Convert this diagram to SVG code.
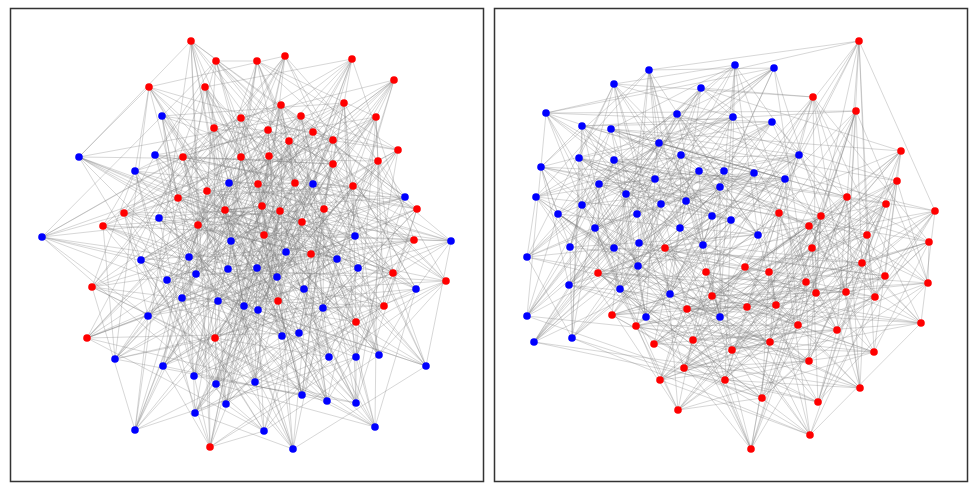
<svg xmlns="http://www.w3.org/2000/svg" width="978" height="490" viewBox="0 0 978 490">
<style>
.frame{fill:none;stroke:#333;stroke-width:1.5}
.e{fill:none;stroke:#808080;stroke-width:0.75;stroke-opacity:0.42;stroke-linejoin:round}
.b{fill:#0000ff}
.r{fill:#ff0000}
</style>
<rect width="978" height="490" fill="#fff"/>
<rect class="frame" x="10.5" y="8.5" width="473" height="473"/>
<rect class="frame" x="494.5" y="8.5" width="473" height="473"/>
<g id="connectors-left">
<polygon class="e" points="162,116 42,237 196,274 115,359 286,252 258,310 426,366 293,449 183,157 198,225 301,116 398,150 280,211 393,273 215,338 313,184 141,260 244,306 195,413 304,289 356,357 375,427 241,118 124,213 281,105 333,140 353,186 414,240 92,287 135,171 355,236 182,298 216,384 277,277 299,333 327,401 149,87 178,198 352,59 313,132 258,184 417,209 384,306 79,157 231,241 228,269 163,366 337,259 323,308 255,382 191,41 241,157 257,61 376,117 378,161 324,209 446,281 210,447 159,218 189,257 148,316 135,430 416,289 379,355 264,431 214,128 103,226 344,103 269,156 262,206 311,254 87,338 229,183 451,241 218,301 226,404 358,268 329,357 356,403 205,87 225,210 394,80 289,141 295,183 264,235 356,322 155,155 405,197 167,280 194,376 257,268 282,336 302,395 216,61 207,191 285,56 268,130 333,164 302,222 278,301"/>
<polygon class="e" points="162,116 293,449 215,338 375,427 92,287 327,401 384,306 255,382 446,281 379,355 311,254 329,357 264,235 282,336 302,222 258,310 280,211 304,289 353,186 277,277 258,184 337,259 378,161 135,430 269,156 226,404 289,141 194,376 268,130 115,359 301,116 244,306 281,105 182,298 352,59 228,269 257,61 189,257 103,226 451,241 225,210 405,197 207,191 42,237 183,157 313,184 241,118 135,171 149,87 79,157 191,41 210,447 264,431 87,338 356,403 356,322 302,395 278,301 426,366 393,273 356,357 414,240 299,333 417,209 323,308 324,209 416,289 262,206 358,268 295,183 257,268 333,164 286,252 398,150 195,413 333,140 216,384 313,132 163,366 376,117 148,316 344,103 218,301 394,80 167,280 285,56 196,274 198,225 141,260 124,213 355,236 178,198 231,241 241,157 159,218 214,128 229,183 205,87 155,155 216,61"/>
<polygon class="e" points="162,116 189,257 195,413 329,357 149,87 285,56 378,161 393,273 229,183 182,298 257,268 255,382 183,157 344,103 353,186 356,322 231,241 115,359 416,289 375,427 225,210 313,132 302,222 210,447 141,260 226,404 299,333 216,61 257,61 398,150 311,254 135,171 167,280 337,259 426,366 214,128 281,105 295,183 384,306 42,237 148,316 304,289 356,403 178,198 268,130 324,209 215,338 451,241 216,384 282,336 191,41 198,225 269,156 414,240 155,155 228,269 286,252 379,355 241,118 394,80 258,184 278,301 159,218 244,306 358,268 327,401 207,191 376,117 280,211 87,338 355,236 194,376 323,308 293,449 103,226 333,140 264,235 79,157 196,274 135,430 356,357 205,87 352,59 333,164 446,281 313,184 218,301 277,277 302,395 241,157 301,116 262,206 92,287 405,197 163,366 258,310 264,431 124,213 289,141 417,209"/>
<polygon class="e" points="162,116 277,277 103,226 278,301 216,384 214,128 302,222 182,298 264,431 333,164 355,236 379,355 268,130 135,171 416,289 285,56 92,287 135,430 207,191 414,240 148,316 216,61 353,186 189,257 302,395 333,140 159,218 282,336 281,105 210,447 257,268 124,213 446,281 194,376 241,118 324,209 167,280 375,427 378,161 405,197 356,357 376,117 155,155 304,289 257,61 356,322 195,413 241,157 264,235 244,306 191,41 295,183 141,260 255,382 289,141 313,184 323,308 394,80 215,338 337,259 225,210 393,273 163,366 205,87 280,211 228,269 356,403 398,150 231,241 329,357 301,116 79,157 358,268 198,225 384,306 226,404 183,157 417,209 218,301 293,449 258,184 451,241 426,366 313,132 229,183 258,310 352,59 87,338 286,252 178,198 311,254 115,359 149,87 262,206 196,274 327,401 269,156 42,237 299,333 344,103"/>
<polygon class="e" points="162,116 194,376 356,403 344,103 446,281 228,269 299,333 124,213 280,211 42,237 257,268 205,87 269,156 210,447 163,366 327,401 281,105 393,273 196,274 282,336 225,210 262,206 159,218 337,259 149,87 333,140 215,338 115,359 302,395 394,80 311,254 189,257 323,308 178,198 353,186 313,184 286,252 216,61 289,141 87,338 148,316 255,382 352,59 414,240 141,260 258,310 207,191 295,183 229,183 135,430 191,41 313,132 92,287 244,306 426,366 285,56 264,235 451,241 416,289 241,157 258,184 135,171 195,413 293,449 268,130 356,322 218,301 379,355 257,61 417,209 355,236 304,289 183,157 333,164 155,155 226,404 264,431 376,117 384,306 182,298 356,357 198,225 302,222 405,197 358,268 214,128 378,161 79,157 216,384 375,427 301,116 278,301 167,280 329,357 103,226 324,209 231,241 277,277 241,118 398,150"/>
<polygon class="e" points="162,116 379,355 353,186 194,376 257,61 313,184 356,403 417,209 286,252 344,103 355,236 216,61 446,281 304,289 289,141 228,269 183,157 87,338 299,333 333,164 148,316 124,213 155,155 255,382 280,211 226,404 352,59 42,237 264,431 414,240 257,268 376,117 141,260 205,87 384,306 258,310 269,156 182,298 207,191 210,447 356,357 295,183 163,366 198,225 229,183 327,401 302,222 135,430 281,105 405,197 191,41 393,273 358,268 313,132 196,274 214,128 92,287 282,336 378,161 244,306 225,210 79,157 426,366 262,206 216,384 285,56 159,218 375,427 264,235 337,259 301,116 451,241 149,87 278,301 416,289 333,140 167,280 241,157 215,338 329,357 258,184 115,359 103,226 135,171 302,395 324,209 195,413 394,80 231,241 293,449 311,254 277,277 268,130 189,257 241,118 356,322 323,308 398,150 218,301 178,198"/>
</g>
<g id="connectors-right">
<polygon class="e" points="649,70 659,143 599,184 582,205 570,247 772,122 569,285 720,317 677,114 724,171 686,201 680,228 733,117 638,266 646,317 611,129 699,171 661,204 595,228 774,68 527,257 572,338 582,126 541,167 626,194 731,220 735,65 758,235 534,342 701,88 681,155 536,197 712,216 703,245 785,179 527,316 546,113 614,160 720,187 637,214 639,243 754,173 670,294 614,84 579,158 655,179 558,214 614,248 799,155 620,289"/>
<polygon class="e" points="649,70 541,167 558,214 774,68 670,294 611,129 720,187 680,228 785,179 720,317 681,155 582,205 735,65 620,289 582,126 655,179 595,228 754,173 646,317 614,160 686,201 703,245 569,285 701,88 599,184 731,220 799,155 572,338 579,158 661,204 639,243 638,266 546,113 724,171 712,216 772,122 534,342 659,143 626,194 614,248 527,257 614,84 699,171 637,214 733,117 527,316 677,114 536,197 570,247 758,235"/>
<polygon class="e" points="649,70 661,204 785,179 659,143 595,228 527,316 599,184 774,68 546,113 582,205 527,257 614,160 570,247 572,338 720,187 772,122 582,126 637,214 569,285 541,167 639,243 720,317 626,194 754,173 677,114 731,220 670,294 724,171 735,65 614,84 686,201 758,235 579,158 680,228 534,342 655,179 733,117 701,88 558,214 638,266 681,155 614,248 646,317 536,197 799,155 611,129 712,216 620,289 699,171 703,245"/>
<polygon class="e" points="649,70 637,214 534,342 661,204 569,285 655,179 785,179 541,167 733,117 659,143 639,243 701,88 595,228 720,317 558,214 527,316 626,194 638,266 599,184 754,173 681,155 774,68 677,114 614,248 546,113 731,220 646,317 582,205 670,294 536,197 527,257 724,171 799,155 614,160 735,65 611,129 570,247 614,84 712,216 572,338 686,201 620,289 720,187 758,235 699,171 772,122 579,158 703,245 582,126 680,228"/>
<polygon class="e" points="649,70 536,197 733,117 614,84 626,194 772,122 546,113 661,204 799,155 701,88 686,201 754,173 582,126 582,205 785,179 611,129 558,214 758,235 677,114 637,214 527,257 659,143 712,216 638,266 579,158 731,220 569,285 614,160 595,228 620,289 681,155 680,228 670,294 541,167 570,247 527,316 699,171 614,248 534,342 724,171 639,243 572,338 599,184 703,245 646,317 655,179 735,65 720,317 720,187 774,68"/>
<polygon class="e" points="665,248 886,204 812,248 654,344 745,267 875,297 770,342 751,449 847,197 929,242 636,326 678,410 846,292 921,323 810,435 897,181 867,235 612,315 725,380 816,293 837,330 818,402 901,151 809,226 687,309 660,380 806,282 798,325 762,398 856,111 821,216 712,296 684,368 885,276 776,305 860,388 813,97 779,213 706,272 732,350 862,263 747,307 874,352 859,41 935,211 598,273 693,340 769,272 928,283 809,361"/>
<polygon class="e" points="665,248 809,226 693,340 816,293 874,352 897,181 706,272 678,410 776,305 751,449 821,216 654,344 806,282 809,361 901,151 598,273 725,380 747,307 810,435 779,213 636,326 885,276 770,342 856,111 812,248 660,380 928,283 818,402 935,211 612,315 862,263 921,323 813,97 929,242 684,368 875,297 762,398 886,204 687,309 769,272 837,330 859,41 867,235 732,350 846,292 860,388 847,197 712,296 745,267 798,325"/>
<polygon class="e" points="665,248 612,315 776,305 886,204 725,380 860,388 812,248 816,293 813,97 654,344 837,330 779,213 745,267 818,402 706,272 875,297 901,151 732,350 770,342 809,226 862,263 751,449 687,309 747,307 847,197 660,380 874,352 929,242 806,282 859,41 636,326 798,325 935,211 678,410 762,398 598,273 846,292 856,111 693,340 921,323 821,216 769,272 810,435 712,296 928,283 897,181 684,368 809,361 867,235 885,276"/>
<polygon class="e" points="665,248 732,350 762,398 612,315 770,342 598,273 776,305 809,226 846,292 886,204 862,263 856,111 725,380 751,449 693,340 860,388 687,309 921,323 812,248 747,307 821,216 816,293 847,197 769,272 813,97 660,380 810,435 654,344 874,352 712,296 837,330 929,242 928,283 779,213 806,282 897,181 745,267 859,41 684,368 818,402 636,326 809,361 706,272 798,325 867,235 875,297 935,211 885,276 901,151 678,410"/>
<polygon class="e" points="665,248 712,296 846,292 859,41 687,309 875,297 813,97 612,315 928,283 856,111 636,326 747,307 901,151 654,344 776,305 897,181 693,340 798,325 847,197 732,350 837,330 886,204 684,368 921,323 935,211 660,380 770,342 779,213 725,380 809,361 821,216 678,410 874,352 809,226 745,267 860,388 867,235 769,272 762,398 929,242 862,263 818,402 812,248 885,276 810,435 598,273 806,282 751,449 706,272 816,293"/>
<polygon class="e" points="649,70 720,317 810,435 572,338 762,398 527,316 874,352 620,289 770,342 638,266 837,330 758,235 776,305 754,173 928,283 772,122 846,292 774,68 806,282 703,245 862,263 614,248 745,267 680,228 725,380 731,220 684,368 637,214 693,340 582,205 636,326 661,204 687,309 536,197 706,272 655,179 812,248 724,171 867,235 541,167 821,216 614,160 935,211 659,143 847,197 611,129 901,151 701,88 813,97 614,84 665,248 751,449 646,317 818,402 534,342 860,388 670,294 809,361 569,285 921,323 527,257 798,325 785,179 747,307 799,155 875,297 733,117 816,293 735,65 885,276 639,243 769,272 570,247 678,410 595,228 660,380 712,216 732,350 558,214 654,344 686,201 612,315 626,194 712,296 720,187 598,273 599,184 929,242 699,171 809,226 681,155 779,213 579,158 886,204 677,114 897,181 582,126 856,111 546,113 859,41"/>
</g>
<g id="nodes-left">
<g id="L0" class="b"><circle cx="162" cy="116" r="3.8"/></g>
<g id="L1" class="b"><circle cx="79" cy="157" r="3.8"/></g>
<g id="L2" class="b"><circle cx="155" cy="155" r="3.8"/></g>
<g id="L3" class="b"><circle cx="135" cy="171" r="3.8"/></g>
<g id="L4" class="b"><circle cx="229" cy="183" r="3.8"/></g>
<g id="L5" class="b"><circle cx="313" cy="184" r="3.8"/></g>
<g id="L6" class="b"><circle cx="159" cy="218" r="3.8"/></g>
<g id="L7" class="b"><circle cx="42" cy="237" r="3.8"/></g>
<g id="L8" class="b"><circle cx="231" cy="241" r="3.8"/></g>
<g id="L9" class="b"><circle cx="405" cy="197" r="3.8"/></g>
<g id="L10" class="b"><circle cx="355" cy="236" r="3.8"/></g>
<g id="L11" class="b"><circle cx="451" cy="241" r="3.8"/></g>
<g id="L12" class="b"><circle cx="141" cy="260" r="3.8"/></g>
<g id="L13" class="b"><circle cx="189" cy="257" r="3.8"/></g>
<g id="L14" class="b"><circle cx="196" cy="274" r="3.8"/></g>
<g id="L15" class="b"><circle cx="228" cy="269" r="3.8"/></g>
<g id="L16" class="b"><circle cx="167" cy="280" r="3.8"/></g>
<g id="L17" class="b"><circle cx="182" cy="298" r="3.8"/></g>
<g id="L18" class="b"><circle cx="218" cy="301" r="3.8"/></g>
<g id="L19" class="b"><circle cx="244" cy="306" r="3.8"/></g>
<g id="L20" class="b"><circle cx="148" cy="316" r="3.8"/></g>
<g id="L21" class="b"><circle cx="115" cy="359" r="3.8"/></g>
<g id="L22" class="b"><circle cx="163" cy="366" r="3.8"/></g>
<g id="L23" class="b"><circle cx="194" cy="376" r="3.8"/></g>
<g id="L24" class="b"><circle cx="216" cy="384" r="3.8"/></g>
<g id="L25" class="b"><circle cx="226" cy="404" r="3.8"/></g>
<g id="L26" class="b"><circle cx="195" cy="413" r="3.8"/></g>
<g id="L27" class="b"><circle cx="135" cy="430" r="3.8"/></g>
<g id="L28" class="b"><circle cx="286" cy="252" r="3.8"/></g>
<g id="L29" class="b"><circle cx="337" cy="259" r="3.8"/></g>
<g id="L30" class="b"><circle cx="257" cy="268" r="3.8"/></g>
<g id="L31" class="b"><circle cx="277" cy="277" r="3.8"/></g>
<g id="L32" class="b"><circle cx="358" cy="268" r="3.8"/></g>
<g id="L33" class="b"><circle cx="304" cy="289" r="3.8"/></g>
<g id="L34" class="b"><circle cx="416" cy="289" r="3.8"/></g>
<g id="L35" class="b"><circle cx="258" cy="310" r="3.8"/></g>
<g id="L36" class="b"><circle cx="323" cy="308" r="3.8"/></g>
<g id="L37" class="b"><circle cx="282" cy="336" r="3.8"/></g>
<g id="L38" class="b"><circle cx="299" cy="333" r="3.8"/></g>
<g id="L39" class="b"><circle cx="329" cy="357" r="3.8"/></g>
<g id="L40" class="b"><circle cx="356" cy="357" r="3.8"/></g>
<g id="L41" class="b"><circle cx="379" cy="355" r="3.8"/></g>
<g id="L42" class="b"><circle cx="426" cy="366" r="3.8"/></g>
<g id="L43" class="b"><circle cx="255" cy="382" r="3.8"/></g>
<g id="L44" class="b"><circle cx="302" cy="395" r="3.8"/></g>
<g id="L45" class="b"><circle cx="327" cy="401" r="3.8"/></g>
<g id="L46" class="b"><circle cx="356" cy="403" r="3.8"/></g>
<g id="L47" class="b"><circle cx="375" cy="427" r="3.8"/></g>
<g id="L48" class="b"><circle cx="264" cy="431" r="3.8"/></g>
<g id="L49" class="b"><circle cx="293" cy="449" r="3.8"/></g>
<g id="L50" class="r"><circle cx="191" cy="41" r="3.8"/></g>
<g id="L51" class="r"><circle cx="216" cy="61" r="3.8"/></g>
<g id="L52" class="r"><circle cx="149" cy="87" r="3.8"/></g>
<g id="L53" class="r"><circle cx="205" cy="87" r="3.8"/></g>
<g id="L54" class="r"><circle cx="241" cy="118" r="3.8"/></g>
<g id="L55" class="r"><circle cx="214" cy="128" r="3.8"/></g>
<g id="L56" class="r"><circle cx="183" cy="157" r="3.8"/></g>
<g id="L57" class="r"><circle cx="241" cy="157" r="3.8"/></g>
<g id="L58" class="r"><circle cx="207" cy="191" r="3.8"/></g>
<g id="L59" class="r"><circle cx="178" cy="198" r="3.8"/></g>
<g id="L60" class="r"><circle cx="225" cy="210" r="3.8"/></g>
<g id="L61" class="r"><circle cx="124" cy="213" r="3.8"/></g>
<g id="L62" class="r"><circle cx="103" cy="226" r="3.8"/></g>
<g id="L63" class="r"><circle cx="198" cy="225" r="3.8"/></g>
<g id="L64" class="r"><circle cx="257" cy="61" r="3.8"/></g>
<g id="L65" class="r"><circle cx="285" cy="56" r="3.8"/></g>
<g id="L66" class="r"><circle cx="352" cy="59" r="3.8"/></g>
<g id="L67" class="r"><circle cx="394" cy="80" r="3.8"/></g>
<g id="L68" class="r"><circle cx="281" cy="105" r="3.8"/></g>
<g id="L69" class="r"><circle cx="344" cy="103" r="3.8"/></g>
<g id="L70" class="r"><circle cx="301" cy="116" r="3.8"/></g>
<g id="L71" class="r"><circle cx="376" cy="117" r="3.8"/></g>
<g id="L72" class="r"><circle cx="268" cy="130" r="3.8"/></g>
<g id="L73" class="r"><circle cx="313" cy="132" r="3.8"/></g>
<g id="L74" class="r"><circle cx="289" cy="141" r="3.8"/></g>
<g id="L75" class="r"><circle cx="333" cy="140" r="3.8"/></g>
<g id="L76" class="r"><circle cx="269" cy="156" r="3.8"/></g>
<g id="L77" class="r"><circle cx="398" cy="150" r="3.8"/></g>
<g id="L78" class="r"><circle cx="378" cy="161" r="3.8"/></g>
<g id="L79" class="r"><circle cx="333" cy="164" r="3.8"/></g>
<g id="L80" class="r"><circle cx="258" cy="184" r="3.8"/></g>
<g id="L81" class="r"><circle cx="295" cy="183" r="3.8"/></g>
<g id="L82" class="r"><circle cx="353" cy="186" r="3.8"/></g>
<g id="L83" class="r"><circle cx="262" cy="206" r="3.8"/></g>
<g id="L84" class="r"><circle cx="280" cy="211" r="3.8"/></g>
<g id="L85" class="r"><circle cx="324" cy="209" r="3.8"/></g>
<g id="L86" class="r"><circle cx="302" cy="222" r="3.8"/></g>
<g id="L87" class="r"><circle cx="417" cy="209" r="3.8"/></g>
<g id="L88" class="r"><circle cx="264" cy="235" r="3.8"/></g>
<g id="L89" class="r"><circle cx="414" cy="240" r="3.8"/></g>
<g id="L90" class="r"><circle cx="311" cy="254" r="3.8"/></g>
<g id="L91" class="r"><circle cx="393" cy="273" r="3.8"/></g>
<g id="L92" class="r"><circle cx="446" cy="281" r="3.8"/></g>
<g id="L93" class="r"><circle cx="278" cy="301" r="3.8"/></g>
<g id="L94" class="r"><circle cx="384" cy="306" r="3.8"/></g>
<g id="L95" class="r"><circle cx="356" cy="322" r="3.8"/></g>
<g id="L96" class="r"><circle cx="92" cy="287" r="3.8"/></g>
<g id="L97" class="r"><circle cx="87" cy="338" r="3.8"/></g>
<g id="L98" class="r"><circle cx="215" cy="338" r="3.8"/></g>
<g id="L99" class="r"><circle cx="210" cy="447" r="3.8"/></g>
</g>
<g id="nodes-right">
<g id="R0" class="b"><circle cx="649" cy="70" r="3.8"/></g>
<g id="R1" class="b"><circle cx="614" cy="84" r="3.8"/></g>
<g id="R2" class="b"><circle cx="546" cy="113" r="3.8"/></g>
<g id="R3" class="b"><circle cx="701" cy="88" r="3.8"/></g>
<g id="R4" class="b"><circle cx="582" cy="126" r="3.8"/></g>
<g id="R5" class="b"><circle cx="611" cy="129" r="3.8"/></g>
<g id="R6" class="b"><circle cx="677" cy="114" r="3.8"/></g>
<g id="R7" class="b"><circle cx="659" cy="143" r="3.8"/></g>
<g id="R8" class="b"><circle cx="579" cy="158" r="3.8"/></g>
<g id="R9" class="b"><circle cx="614" cy="160" r="3.8"/></g>
<g id="R10" class="b"><circle cx="681" cy="155" r="3.8"/></g>
<g id="R11" class="b"><circle cx="541" cy="167" r="3.8"/></g>
<g id="R12" class="b"><circle cx="699" cy="171" r="3.8"/></g>
<g id="R13" class="b"><circle cx="724" cy="171" r="3.8"/></g>
<g id="R14" class="b"><circle cx="599" cy="184" r="3.8"/></g>
<g id="R15" class="b"><circle cx="655" cy="179" r="3.8"/></g>
<g id="R16" class="b"><circle cx="720" cy="187" r="3.8"/></g>
<g id="R17" class="b"><circle cx="536" cy="197" r="3.8"/></g>
<g id="R18" class="b"><circle cx="626" cy="194" r="3.8"/></g>
<g id="R19" class="b"><circle cx="661" cy="204" r="3.8"/></g>
<g id="R20" class="b"><circle cx="686" cy="201" r="3.8"/></g>
<g id="R21" class="b"><circle cx="582" cy="205" r="3.8"/></g>
<g id="R22" class="b"><circle cx="558" cy="214" r="3.8"/></g>
<g id="R23" class="b"><circle cx="637" cy="214" r="3.8"/></g>
<g id="R24" class="b"><circle cx="712" cy="216" r="3.8"/></g>
<g id="R25" class="b"><circle cx="731" cy="220" r="3.8"/></g>
<g id="R26" class="b"><circle cx="595" cy="228" r="3.8"/></g>
<g id="R27" class="b"><circle cx="680" cy="228" r="3.8"/></g>
<g id="R28" class="b"><circle cx="570" cy="247" r="3.8"/></g>
<g id="R29" class="b"><circle cx="614" cy="248" r="3.8"/></g>
<g id="R30" class="b"><circle cx="639" cy="243" r="3.8"/></g>
<g id="R31" class="b"><circle cx="703" cy="245" r="3.8"/></g>
<g id="R32" class="b"><circle cx="735" cy="65" r="3.8"/></g>
<g id="R33" class="b"><circle cx="774" cy="68" r="3.8"/></g>
<g id="R34" class="b"><circle cx="733" cy="117" r="3.8"/></g>
<g id="R35" class="b"><circle cx="772" cy="122" r="3.8"/></g>
<g id="R36" class="b"><circle cx="799" cy="155" r="3.8"/></g>
<g id="R37" class="b"><circle cx="754" cy="173" r="3.8"/></g>
<g id="R38" class="b"><circle cx="785" cy="179" r="3.8"/></g>
<g id="R39" class="b"><circle cx="758" cy="235" r="3.8"/></g>
<g id="R40" class="b"><circle cx="527" cy="257" r="3.8"/></g>
<g id="R41" class="b"><circle cx="638" cy="266" r="3.8"/></g>
<g id="R42" class="b"><circle cx="569" cy="285" r="3.8"/></g>
<g id="R43" class="b"><circle cx="620" cy="289" r="3.8"/></g>
<g id="R44" class="b"><circle cx="670" cy="294" r="3.8"/></g>
<g id="R45" class="b"><circle cx="527" cy="316" r="3.8"/></g>
<g id="R46" class="b"><circle cx="534" cy="342" r="3.8"/></g>
<g id="R47" class="b"><circle cx="572" cy="338" r="3.8"/></g>
<g id="R48" class="b"><circle cx="646" cy="317" r="3.8"/></g>
<g id="R49" class="b"><circle cx="720" cy="317" r="3.8"/></g>
<g id="R50" class="r"><circle cx="665" cy="248" r="3.8"/></g>
<g id="R51" class="r"><circle cx="859" cy="41" r="3.8"/></g>
<g id="R52" class="r"><circle cx="813" cy="97" r="3.8"/></g>
<g id="R53" class="r"><circle cx="856" cy="111" r="3.8"/></g>
<g id="R54" class="r"><circle cx="901" cy="151" r="3.8"/></g>
<g id="R55" class="r"><circle cx="897" cy="181" r="3.8"/></g>
<g id="R56" class="r"><circle cx="847" cy="197" r="3.8"/></g>
<g id="R57" class="r"><circle cx="886" cy="204" r="3.8"/></g>
<g id="R58" class="r"><circle cx="935" cy="211" r="3.8"/></g>
<g id="R59" class="r"><circle cx="779" cy="213" r="3.8"/></g>
<g id="R60" class="r"><circle cx="821" cy="216" r="3.8"/></g>
<g id="R61" class="r"><circle cx="809" cy="226" r="3.8"/></g>
<g id="R62" class="r"><circle cx="867" cy="235" r="3.8"/></g>
<g id="R63" class="r"><circle cx="929" cy="242" r="3.8"/></g>
<g id="R64" class="r"><circle cx="812" cy="248" r="3.8"/></g>
<g id="R65" class="r"><circle cx="598" cy="273" r="3.8"/></g>
<g id="R66" class="r"><circle cx="706" cy="272" r="3.8"/></g>
<g id="R67" class="r"><circle cx="712" cy="296" r="3.8"/></g>
<g id="R68" class="r"><circle cx="687" cy="309" r="3.8"/></g>
<g id="R69" class="r"><circle cx="612" cy="315" r="3.8"/></g>
<g id="R70" class="r"><circle cx="636" cy="326" r="3.8"/></g>
<g id="R71" class="r"><circle cx="654" cy="344" r="3.8"/></g>
<g id="R72" class="r"><circle cx="693" cy="340" r="3.8"/></g>
<g id="R73" class="r"><circle cx="732" cy="350" r="3.8"/></g>
<g id="R74" class="r"><circle cx="684" cy="368" r="3.8"/></g>
<g id="R75" class="r"><circle cx="660" cy="380" r="3.8"/></g>
<g id="R76" class="r"><circle cx="725" cy="380" r="3.8"/></g>
<g id="R77" class="r"><circle cx="678" cy="410" r="3.8"/></g>
<g id="R78" class="r"><circle cx="745" cy="267" r="3.8"/></g>
<g id="R79" class="r"><circle cx="769" cy="272" r="3.8"/></g>
<g id="R80" class="r"><circle cx="862" cy="263" r="3.8"/></g>
<g id="R81" class="r"><circle cx="885" cy="276" r="3.8"/></g>
<g id="R82" class="r"><circle cx="806" cy="282" r="3.8"/></g>
<g id="R83" class="r"><circle cx="816" cy="293" r="3.8"/></g>
<g id="R84" class="r"><circle cx="846" cy="292" r="3.8"/></g>
<g id="R85" class="r"><circle cx="875" cy="297" r="3.8"/></g>
<g id="R86" class="r"><circle cx="928" cy="283" r="3.8"/></g>
<g id="R87" class="r"><circle cx="747" cy="307" r="3.8"/></g>
<g id="R88" class="r"><circle cx="776" cy="305" r="3.8"/></g>
<g id="R89" class="r"><circle cx="798" cy="325" r="3.8"/></g>
<g id="R90" class="r"><circle cx="837" cy="330" r="3.8"/></g>
<g id="R91" class="r"><circle cx="921" cy="323" r="3.8"/></g>
<g id="R92" class="r"><circle cx="770" cy="342" r="3.8"/></g>
<g id="R93" class="r"><circle cx="809" cy="361" r="3.8"/></g>
<g id="R94" class="r"><circle cx="874" cy="352" r="3.8"/></g>
<g id="R95" class="r"><circle cx="860" cy="388" r="3.8"/></g>
<g id="R96" class="r"><circle cx="762" cy="398" r="3.8"/></g>
<g id="R97" class="r"><circle cx="818" cy="402" r="3.8"/></g>
<g id="R98" class="r"><circle cx="810" cy="435" r="3.8"/></g>
<g id="R99" class="r"><circle cx="751" cy="449" r="3.8"/></g>
</g>
</svg>
